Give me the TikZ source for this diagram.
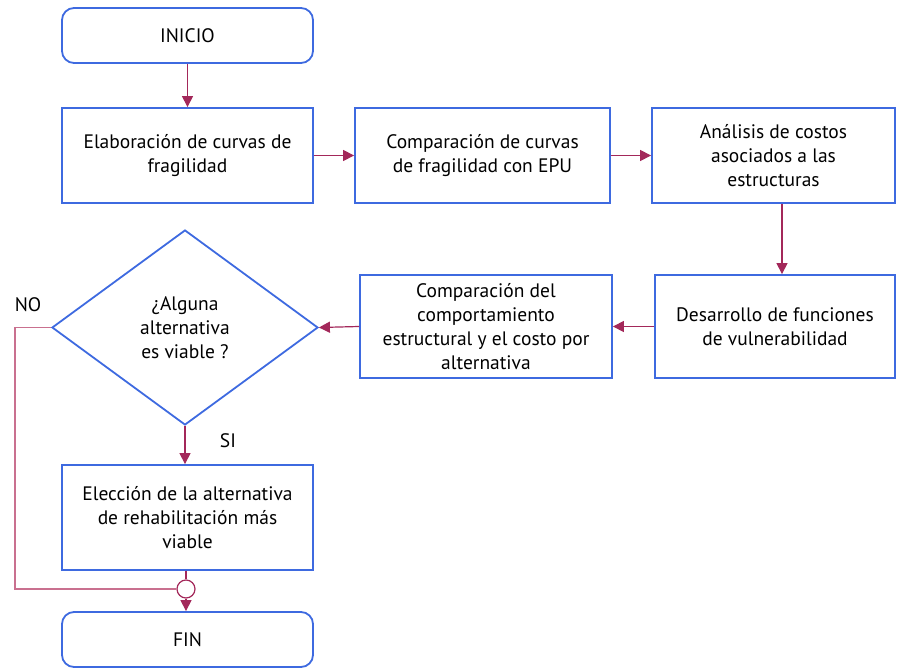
\documentclass[tikz,border=0pt]{standalone}
\usepackage{fontspec}
\setmainfont{PT Sans}
\usetikzlibrary{shapes.geometric,arrows.meta}
\begin{document}
\begin{tikzpicture}[x=1pt,y=1pt,
    caja/.style={draw=azul, line width=1.8pt, align=center, font=\fontsize{19.5}{24}\selectfont, inner sep=0pt},
    term/.style={caja, rounded corners=12pt, minimum width=251pt, minimum height=55pt},
    flecha/.style={draw=vino, line width=1.2pt, -{Triangle[length=11pt,width=11pt]}}]
    \definecolor{azul}{HTML}{3E6AE0}
    \definecolor{vino}{HTML}{A3285A}
    \definecolor{rosa}{HTML}{C9708F}
    \useasboundingbox (0,0) rectangle (898,-669);
    \node[term] (inicio) at (187.5,-35.5) {INICIO};
    \node[caja, minimum width=251pt, minimum height=95pt] (elab) at (187.5,-155.5) {Elaboración de curvas de\\fragilidad};
    \node[caja, minimum width=255pt, minimum height=95pt] (comp1) at (482.5,-155.5) {Comparación de curvas\\de fragilidad con EPU};
    \node[caja, minimum width=243pt, minimum height=95pt] (anal) at (773.5,-155.5) {Análisis de costos\\asociados a las\\estructuras};
    \node[caja, minimum width=240pt, minimum height=103pt] (desa) at (775,-326.5) {Desarrollo de funciones\\de vulnerabilidad};
    \node[caja, minimum width=252pt, minimum height=103pt] (comp2) at (486,-326.5) {Comparación del\\comportamiento\\estructural y el costo por\\alternativa};
    \node[caja, diamond, minimum width=266pt, minimum height=195pt] (dec) at (185,-327.5) {¿Alguna\\alternativa\\es viable ?};
    \node[caja, minimum width=251pt, minimum height=105pt] (elec) at (187.5,-517.5) {Elección de la alternativa\\de rehabilitación más\\viable};
    \node[circle, draw=vino, line width=1.2pt, minimum size=18pt, inner sep=0pt] (union) at (186,-589) {};
    \node[term] (fin) at (187.5,-639.5) {FIN};
    \node[font=\fontsize{19.5}{24}\selectfont] (no) at (28,-305) {NO};
    \node[font=\fontsize{19.5}{24}\selectfont] (si) at (228,-441) {SI};
    \coordinate (esq1) at (15,-327.5);
    \coordinate (esq2) at (15,-589);
    \draw[flecha] (inicio.south -| elab.north) -- (elab.north);
    \draw[flecha] (elab.east) -- (comp1.west);
    \draw[flecha] (comp1.east) -- (anal.west);
    \draw[flecha] (anal.south -| 782,0) -- (desa.north -| 782,0);
    \draw[flecha] (desa.west) -- (comp2.east);
    \draw[flecha] (comp2.west) -- (dec.east);
    \draw[flecha] (dec.south) -- (dec.south |- elec.north);
    \draw[draw=vino, line width=1.2pt] (elec.south -| union.north) -- (union.north);
    \draw[draw=rosa, line width=1.2pt] (dec.west) -- (esq1) -- (esq2) -- (union.west);
    \draw[flecha] (union.south) -- (union.south |- fin.north);
\end{tikzpicture}
\end{document}
